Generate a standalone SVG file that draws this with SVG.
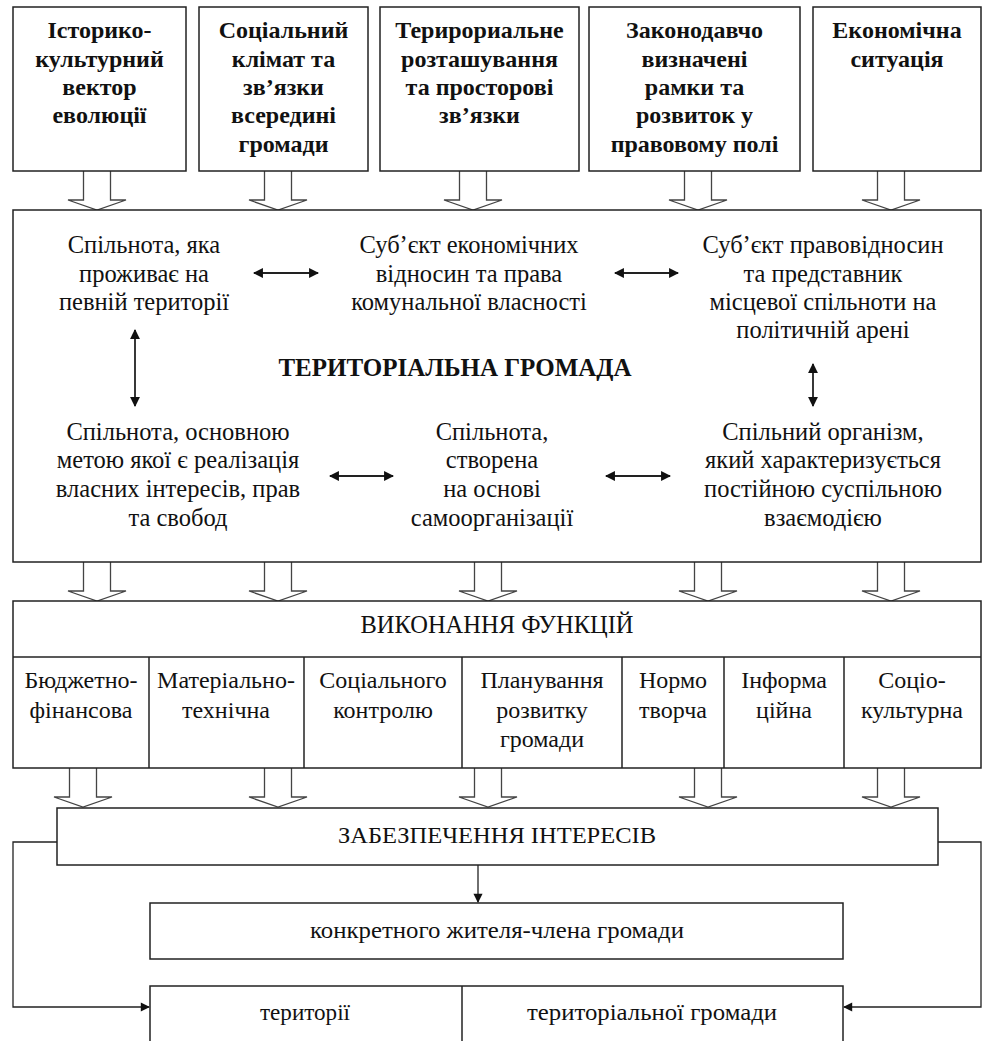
<svg xmlns="http://www.w3.org/2000/svg" width="982" height="1041" viewBox="0 0 982 1041">
<style>
.box{fill:#fff;stroke:#222;stroke-width:1.5}
.ln{fill:none;stroke:#222;stroke-width:1.5}
.ha{fill:#fff;stroke:#444;stroke-width:1.3}
.tb{font-family:"Liberation Serif","Times New Roman",serif;font-size:24px;font-weight:bold;text-anchor:middle;fill:#111}
.tr{font-family:"Liberation Serif","Times New Roman",serif;font-size:24.5px;text-anchor:middle;fill:#111}
.tt{font-family:"Liberation Serif","Times New Roman",serif;font-size:25px;font-weight:bold;text-anchor:middle;fill:#111}
.tf{font-family:"Liberation Serif","Times New Roman",serif;font-size:24px;text-anchor:middle;fill:#111}
.tn{font-family:"Liberation Serif","Times New Roman",serif;font-size:24px;text-anchor:middle;fill:#111}
.dbl{fill:none;stroke:#222;stroke-width:1.8;marker-start:url(#ah);marker-end:url(#ah)}
.one{fill:none;stroke:#222;stroke-width:1.3;marker-end:url(#ah2)}
</style>
<defs>
<marker id="ah" viewBox="0 0 10 10" refX="9" refY="5" markerWidth="6" markerHeight="5.5" orient="auto-start-reverse" markerUnits="strokeWidth">
<path d="M0,0 L10,5 L0,10 z" fill="#111"/>
</marker>
<marker id="ah2" viewBox="0 0 10 10" refX="9" refY="5" markerWidth="8" markerHeight="7" orient="auto" markerUnits="strokeWidth">
<path d="M0,0 L10,5 L0,10 z" fill="#111"/>
</marker>
<path id="harrow" class="ha" d="M-13.5,0 V29 H-29 L0,39 L29,29 H13.5 V0"/>
</defs>

<g id="connectors">
<use href="#harrow" x="97" y="171"/>
<use href="#harrow" x="278" y="171"/>
<use href="#harrow" x="473" y="171"/>
<use href="#harrow" x="698" y="171"/>
<use href="#harrow" x="891" y="171"/>
<use href="#harrow" x="97" y="562"/>
<use href="#harrow" x="278" y="562"/>
<use href="#harrow" x="488" y="562"/>
<use href="#harrow" x="708" y="562"/>
<use href="#harrow" x="891" y="562"/>
<use href="#harrow" x="83" y="768"/>
<use href="#harrow" x="278" y="768"/>
<use href="#harrow" x="488" y="768"/>
<use href="#harrow" x="708" y="768"/>
<use href="#harrow" x="891" y="768"/>
</g>

<g id="top1"><rect class="box" x="13" y="7" width="173" height="164"/>
<text class="tb" x="99.5" y="38">Історико-</text><text class="tb" x="99.5" y="67">культурний</text><text class="tb" x="99.5" y="95">вектор</text><text class="tb" x="99.5" y="123">еволюції</text></g>
<g id="top2"><rect class="box" x="199" y="7" width="169" height="164"/>
<text class="tb" x="283.5" y="38">Соціальний</text><text class="tb" x="283.5" y="67">клімат та</text><text class="tb" x="283.5" y="95">зв’язки</text><text class="tb" x="283.5" y="123">всередині</text><text class="tb" x="283.5" y="152">громади</text></g>
<g id="top3"><rect class="box" x="380" y="7" width="199" height="164"/>
<text class="tb" x="479.5" y="38">Терирориальне</text><text class="tb" x="479.5" y="67">розташування</text><text class="tb" x="479.5" y="95">та просторові</text><text class="tb" x="479.5" y="123">зв’язки</text></g>
<g id="top4"><rect class="box" x="589" y="7" width="211" height="164"/>
<text class="tb" x="694.5" y="38">Законодавчо</text><text class="tb" x="694.5" y="67">визначені</text><text class="tb" x="694.5" y="95">рамки та</text><text class="tb" x="694.5" y="123">розвиток у</text><text class="tb" x="694.5" y="152">правовому полі</text></g>
<g id="top5"><rect class="box" x="813" y="7" width="168" height="164"/>
<text class="tb" x="897" y="38">Економічна</text><text class="tb" x="897" y="67">ситуація</text></g>

<g id="hromada"><rect class="box" x="13" y="210" width="968" height="352"/>
<g id="h-a"><text class="tr" x="144" y="253">Спільнота, яка</text><text class="tr" x="144" y="282">проживає на</text><text class="tr" x="144" y="310">певній території</text></g>
<g id="h-b"><text class="tr" x="469" y="253">Суб’єкт економічних</text><text class="tr" x="469" y="282">відносин та права</text><text class="tr" x="469" y="310">комунальної власності</text></g>
<g id="h-c"><text class="tr" x="823" y="253">Суб’єкт правовідносин</text><text class="tr" x="823" y="282">та представник</text><text class="tr" x="823" y="310">місцевої спільноти на</text><text class="tr" x="823" y="338">політичній арені</text></g>
<text class="tt" x="455" y="376">ТЕРИТОРІАЛЬНА ГРОМАДА</text>
<g id="h-d"><text class="tr" x="178" y="440">Спільнота, основною</text><text class="tr" x="178" y="468">метою якої є реалізація</text><text class="tr" x="178" y="497">власних інтересів, прав</text><text class="tr" x="178" y="526">та свобод</text></g>
<g id="h-e"><text class="tr" x="492" y="440">Спільнота,</text><text class="tr" x="492" y="468">створена</text><text class="tr" x="492" y="497">на основі</text><text class="tr" x="492" y="526">самоорганізації</text></g>
<g id="h-f"><text class="tr" x="823" y="440">Спільний організм,</text><text class="tr" x="823" y="468">який характеризується</text><text class="tr" x="823" y="497">постійною суспільною</text><text class="tr" x="823" y="526">взаємодією</text></g>
</g>

<g id="inner-connectors">
<line class="dbl" x1="254" y1="273" x2="318" y2="273"/>
<line class="dbl" x1="615" y1="273" x2="678" y2="273"/>
<line class="dbl" x1="135" y1="330" x2="135" y2="406"/>
<line class="dbl" x1="813" y1="364" x2="813" y2="406"/>
<line class="dbl" x1="330" y1="476" x2="393" y2="476"/>
<line class="dbl" x1="606" y1="476" x2="670" y2="476"/>
</g>

<g id="functions"><rect class="box" x="13" y="601" width="968" height="167"/>
<line class="ln" x1="13" y1="657" x2="981" y2="657"/>
<line class="ln" x1="149" y1="657" x2="149" y2="768"/>
<line class="ln" x1="304" y1="657" x2="304" y2="768"/>
<line class="ln" x1="462" y1="657" x2="462" y2="768"/>
<line class="ln" x1="622" y1="657" x2="622" y2="768"/>
<line class="ln" x1="724" y1="657" x2="724" y2="768"/>
<line class="ln" x1="844" y1="657" x2="844" y2="768"/>
<text class="tr" x="497" y="633">ВИКОНАННЯ ФУНКЦІЙ</text>
<g id="f1"><text class="tf" x="81" y="688">Бюджетно-</text><text class="tf" x="81" y="718">фінансова</text></g>
<g id="f2"><text class="tf" x="226" y="688">Матеріально-</text><text class="tf" x="226" y="718">технічна</text></g>
<g id="f3"><text class="tf" x="383" y="688">Соціального</text><text class="tf" x="383" y="718">контролю</text></g>
<g id="f4"><text class="tf" x="542" y="688">Планування</text><text class="tf" x="542" y="718">розвитку</text><text class="tf" x="542" y="747">громади</text></g>
<g id="f5"><text class="tf" x="673" y="688">Нормо</text><text class="tf" x="673" y="718">творча</text></g>
<g id="f6"><text class="tf" x="784" y="688">Інформа</text><text class="tf" x="784" y="718">ційна</text></g>
<g id="f7"><text class="tf" x="912" y="688">Соціо-</text><text class="tf" x="912" y="718">культурна</text></g>
</g>

<g id="interests"><rect class="box" x="57" y="808" width="881" height="57"/>
<text class="tn" x="497" y="843" textLength="318" lengthAdjust="spacingAndGlyphs">ЗАБЕЗПЕЧЕННЯ ІНТЕРЕСІВ</text></g>
<g id="resident"><rect class="box" x="150" y="903" width="693" height="56"/>
<text class="tn" x="497" y="938" textLength="374" lengthAdjust="spacingAndGlyphs">конкретного жителя-члена громади</text></g>
<g id="territory"><rect class="box" x="150" y="986" width="693" height="60"/>
<line class="ln" x1="462" y1="986" x2="462" y2="1041"/>
<text class="tn" x="305" y="1020" textLength="90" lengthAdjust="spacingAndGlyphs">території</text>
<text class="tn" x="652" y="1020" textLength="250" lengthAdjust="spacingAndGlyphs">територіальної громади</text></g>

<g id="bottom-connectors">
<line class="one" x1="478" y1="865" x2="478" y2="902"/>
<polyline class="one" points="57,842 13,842 13,1007 149,1007"/>
<polyline class="one" points="938,842 981,842 981,1007 844,1007"/>
</g>
</svg>
